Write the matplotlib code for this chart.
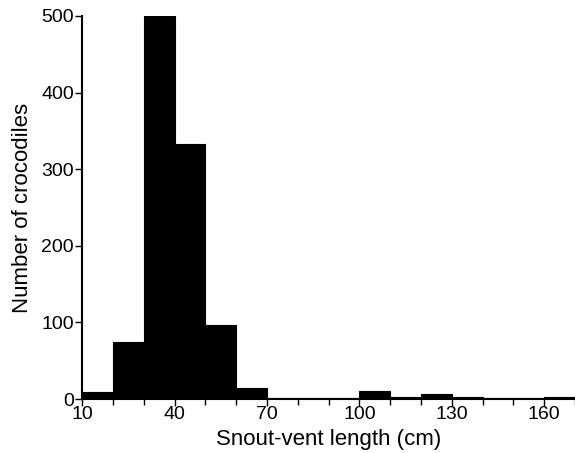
import numpy as np
import matplotlib.pyplot as plt

# bin edges (cm) and crocodile counts per 10 cm class
bin_left = [10, 20, 30, 40, 50, 60, 70, 80, 90, 100, 110, 120, 130, 140, 150, 160]
counts = [9, 75, 500, 333, 97, 14, 2, 2, 1, 10, 3, 6, 3, 1, 1, 3]
xtick_vals = [10, 40, 70, 100, 130, 160]
ytick_vals = [0, 100, 200, 300, 400, 500]

plt.rcParams['font.family'] = ['Liberation Sans', 'DejaVu Sans']

fig = plt.figure(figsize=(5.75, 4.53), dpi=100)
ax = fig.add_axes([0.143, 0.119, 0.857, 0.846])

ax.bar(bin_left, counts, width=10, align="edge", color="black", edgecolor="black", linewidth=0.8)

ax.set_xlim(10, 170)
ax.set_ylim(0, 500)
ax.spines["top"].set_color("none")
ax.spines["right"].set_color("none")
ax.spines["left"].set_linewidth(1.5)
ax.spines["bottom"].set_linewidth(1.5)

ax.set_xticks(xtick_vals)
ax.set_xticks(np.arange(10, 171, 10), minor=True)
ax.set_yticks(ytick_vals)
ax.tick_params(axis="both", which="both", direction="out", width=1, colors="black")
ax.tick_params(axis="x", which="major", length=5, pad=0, labelsize=14)
ax.tick_params(axis="x", which="minor", length=4)
ax.tick_params(axis="y", length=5, pad=1, labelsize=14)

ax.set_xlabel("Snout-vent length (cm)", fontsize=16, labelpad=4)
ax.set_ylabel("Number of crocodiles", fontsize=16, labelpad=6)

fig.savefig("out.png", dpi=100)
